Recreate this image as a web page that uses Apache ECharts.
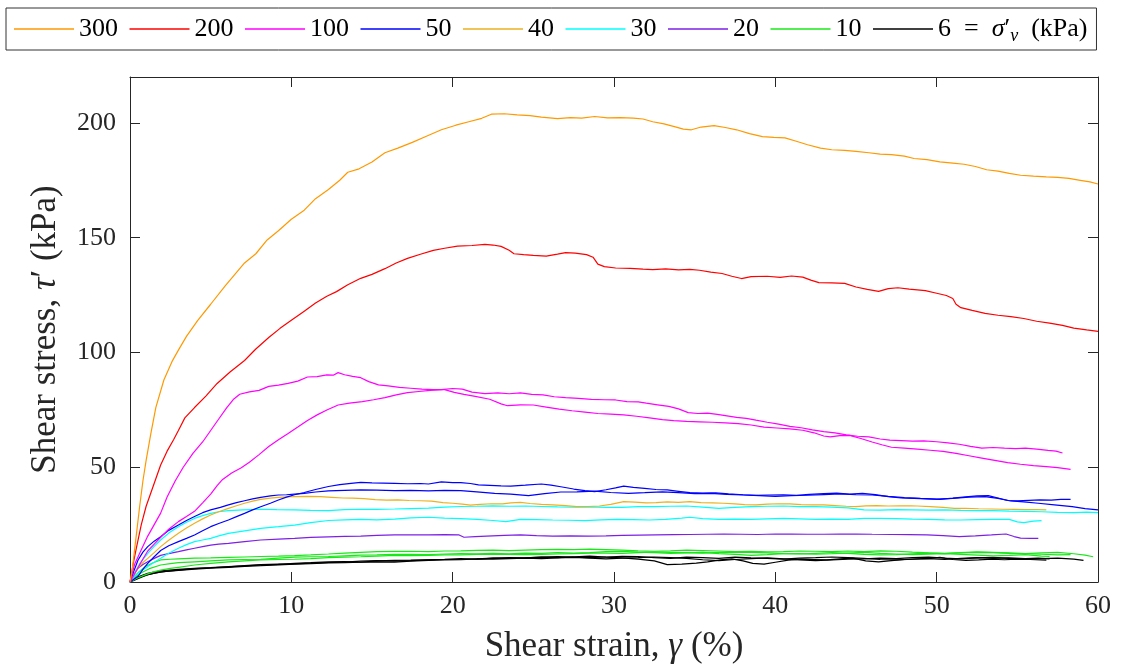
<!DOCTYPE html>
<html>
<head>
<meta charset="utf-8">
<script src="https://cdn.jsdelivr.net/npm/echarts@6/dist/echarts.min.js"></script>
<style>
html,body{margin:0;padding:0;background:#fff;}
#c{width:1126px;height:671px;}
</style>
</head>
<body>
<div id="c"></div>
<script>
// ---- data ----
const legendNames = ['300','200','100','50','40','30','20','10','6'];
const colors = {'300':'#FF9900','200':'#FF0000','100':'#FF00FF','50':'#0000FF','40':'#EDB120','30':'#00FFFF','20':'#7E1FE6','10':'#18E818','6':'#000000'};
const xTicks = [0,10,20,30,40,50,60];
const yTicks = [0,50,100,150,200];

const s300 = [[0,0],[0.15,6],[0.3,15],[0.6,33],[0.8,44],[1.0,53],[1.3,65],[1.6,76],[2.1,88],[2.6,96],[3.0,101],[3.5,107],[4.2,114],[5.0,121],[5.9,129],[6.5,134],[7.1,139],[7.8,143],[8.5,149],[9.2,153],[10.0,158],[10.8,162],[11.5,167],[12.3,171],[13.0,175],[13.5,178.5],[14.2,180],[15.0,183],[15.8,187],[16.6,189],[17.5,191.5],[18.3,194],[19.3,197],[20.2,199],[21.0,200.5],[21.8,202],[22.4,203.8],[23.2,204],[24.0,203.5],[24.8,203.2],[25.5,202.5],[26.5,201.9],[27.3,202.3],[28.0,202.1],[28.8,202.8],[29.6,202.2],[30.4,202.3],[31.2,202.1],[31.8,201.7],[32.4,200.5],[33.1,199.6],[33.8,198.3],[34.3,197.3],[34.8,197],[35.4,198.2],[36.2,198.8],[36.9,198],[37.6,197],[38.4,195.3],[39.2,194],[39.9,193.7],[40.6,193.5],[41.3,192],[42.0,190.5],[42.8,189],[43.5,188.3],[44.3,188],[45.0,187.6],[45.8,187],[46.5,186.4],[47.2,186.2],[48.0,185.5],[48.6,184.5],[49.4,184],[50.2,183],[51.0,182.5],[51.7,182],[52.4,181],[53.1,179.6],[53.8,179],[54.5,178],[55.2,177.2],[56.0,176.8],[56.8,176.5],[57.5,176.3],[58.2,175.8],[58.9,175],[59.5,174.3],[60,173.4]];

const s200 = [[0,0],[0.2,8],[0.4,15],[0.7,25],[1.0,33],[1.3,39],[1.6,45],[1.9,51],[2.3,57],[2.7,62],[3.0,66],[3.4,71.5],[4.0,76],[4.7,81],[5.4,86.5],[6.2,91.5],[7.1,96.5],[7.8,101.5],[8.6,106.5],[9.3,110.5],[10.0,114],[10.8,118],[11.5,121.5],[12.2,124.5],[12.8,126.5],[13.5,129.5],[14.3,132.3],[15.0,134],[15.8,136.5],[16.5,139],[17.2,141],[18.0,142.8],[18.8,144.5],[19.5,145.4],[20.3,146.3],[21.2,146.6],[22.0,147.1],[22.5,146.8],[23.0,146.2],[23.5,144.5],[23.8,143],[24.4,142.6],[25.0,142.3],[25.8,142],[26.5,142.8],[27.0,143.5],[27.6,143.3],[28.3,142.6],[28.7,141.5],[29.0,138.5],[29.4,137.4],[30.1,136.8],[31.0,136.6],[31.8,136.3],[32.4,136.1],[33.2,136.4],[34.0,136],[34.7,136.2],[35.3,135.8],[36.0,135],[36.7,134.4],[37.3,133.2],[37.9,132.2],[38.5,133],[39.5,133.2],[40.3,132.7],[41.0,133.3],[41.7,132.8],[42.2,131.5],[42.7,130.4],[43.5,130.3],[44.3,130.1],[45.0,128.5],[45.7,127.5],[46.4,126.6],[47.0,127.8],[47.6,128.2],[48.3,127.6],[49.3,126.9],[50.0,125.8],[50.6,124.8],[51.0,123.5],[51.2,121],[51.5,119.5],[52.2,118.3],[53.0,117],[53.8,116.2],[54.6,115.6],[55.4,114.8],[56.2,113.6],[57.0,112.8],[57.8,111.8],[58.5,110.6],[59.3,109.8],[60,109.2]];

const s100a = [[0,0],[0.3,8],[0.7,14],[1.1,20],[1.5,25],[1.9,30],[2.3,37],[2.8,44],[3.3,50],[3.9,56],[4.5,61],[5.0,66],[5.5,71],[6.0,76],[6.4,79.5],[6.8,81.8],[7.4,82.8],[8.0,83.5],[8.6,85.2],[9.2,85.8],[9.8,86.5],[10.4,87.5],[11.0,89.3],[11.6,89.5],[12.2,90.2],[12.6,90.1],[12.9,91.2],[13.3,90.3],[13.8,89.6],[14.3,89],[14.8,87.3],[15.4,85.9],[16.0,85.4],[16.7,84.8],[17.4,84.4],[18.1,84],[18.8,83.8],[19.5,83.8],[20.1,82.6],[20.7,81.7],[21.4,80.9],[22.3,79.6],[23.0,77.6],[23.4,76.8],[24.2,77.2],[25.0,77.1],[25.8,76.2],[26.6,75.3],[27.4,74.6],[28.2,74],[29.0,73.4],[29.8,73.1],[30.6,72.8],[31.4,72.2],[32.2,71.5],[33.0,70.7],[33.7,70.3],[34.5,70],[35.3,69.8],[36.1,69.6],[36.9,69.3],[37.7,69],[38.5,68.4],[39.3,67.5],[40.1,67.1],[40.9,66.7],[41.7,66.1],[42.4,65],[43.0,63.6],[43.4,63.2],[44.0,63.8],[44.6,63.9],[45.3,62.5],[46.0,61],[46.6,59.8],[47.2,58.7],[48.0,58.3],[48.8,57.9],[49.6,57.4],[50.4,56.9],[51.2,56],[52.0,55],[52.8,54],[53.6,53],[54.4,52],[55.2,51.3],[56.0,50.7],[56.8,50.3],[57.5,49.8],[58.3,49.1]];

const s100b = [[0,0],[0.4,5],[0.8,10],[1.1,13.5],[1.5,16.5],[1.9,19.5],[2.4,23],[3.0,26.3],[3.5,28.5],[4.0,30.8],[4.5,34.5],[5.0,38.3],[5.4,42],[5.7,44.4],[6.3,47.5],[6.9,49.8],[7.4,52.2],[8.0,55.5],[8.6,59],[9.2,62],[9.8,64.7],[10.4,67.5],[11.0,70.4],[11.6,72.8],[12.2,74.9],[12.9,77.1],[13.6,77.9],[14.4,78.6],[15.1,79.4],[15.8,80.3],[16.5,81.5],[17.2,82.5],[17.9,83],[18.6,83.5],[19.3,83.8],[20.0,84.3],[20.6,84],[21.2,82.7],[22.0,82.1],[22.8,82.4],[23.5,82],[24.2,82.4],[24.9,81.7],[25.6,81.5],[26.3,80.7],[27.0,80.3],[27.8,80],[28.6,79.6],[29.4,79.4],[30.1,79.3],[30.8,78.6],[31.5,78.5],[32.0,77.9],[32.7,77.2],[33.4,76.5],[34.0,75.4],[34.6,73.8],[35.2,73.4],[35.8,73.6],[36.4,73],[37.0,72.4],[37.6,71.7],[38.2,71.3],[38.8,70.5],[39.5,69.6],[40.2,68.8],[40.9,67.8],[41.6,67.2],[42.3,66.3],[43.0,65.5],[43.7,65],[44.4,64.1],[45.1,63.5],[45.8,63.2],[46.5,62.3],[47.1,61.8],[47.8,61.6],[48.5,61.4],[49.2,61.5],[50.0,61.1],[50.7,60.6],[51.4,60],[52.1,59.1],[52.8,58.3],[53.5,58.6],[54.2,58.3],[54.9,58.1],[55.5,58.3],[56.2,57.9],[56.9,57.3],[57.4,57],[57.8,56.2]];

const s50a = [[0,0],[0.2,4],[0.5,9.6],[0.8,13],[1.1,15.4],[1.5,17.8],[1.9,19.7],[2.4,22.5],[3.0,24.8],[3.5,26.8],[4.0,28.5],[4.5,30.2],[5.0,31.4],[5.6,32.5],[6.1,33.6],[6.6,34.6],[7.1,35.4],[7.6,36.2],[8.1,36.9],[8.7,37.5],[9.2,37.9],[9.7,38],[10.2,38.3],[10.8,38.6],[11.5,39.2],[12.3,39.7],[13.3,39.9],[14.3,40.1],[15.3,40],[16.4,39.8],[17.4,39.9],[18.5,39.7],[19.5,39.9],[20.5,39.8],[21.5,39.3],[22.6,38.6],[23.6,38.3],[24.7,37.6],[25.7,38.5],[26.7,39.2],[27.7,39.3],[28.8,39.6],[29.8,39],[30.9,38.6],[31.9,38.9],[33.0,39.3],[34.0,38.9],[35.0,38.5],[36.0,38.6],[37.0,38.2],[38.0,37.9],[39.0,37.6],[40.0,37.3],[41.0,37.6],[42.0,37.8],[43.0,38.1],[44.0,38.4],[45.0,38],[46.0,37.9],[47.0,37.3],[48.0,36.8],[49.0,36.4],[50.0,36.1],[51.0,36.4],[52.0,37],[53.0,37.2],[53.8,36.4],[54.6,35.3],[55.4,34.9],[56.3,34.3],[57.3,33.6],[58.4,32.8],[59.2,32],[60,31.4]];

const s50b = [[0,0],[0.3,1.5],[0.5,2.5],[0.8,5.5],[1.1,8.1],[1.5,11],[1.9,13.7],[2.4,15.8],[3.0,17.6],[3.5,19],[4.0,20.5],[4.5,22.3],[5.0,24.1],[5.5,25.5],[6.1,27],[6.6,28.5],[7.1,29.9],[7.6,31.4],[8.1,32.8],[8.7,34.3],[9.2,35.7],[9.7,37],[10.2,38],[10.8,39],[11.5,40.3],[12.3,41.6],[13.0,42.4],[13.7,43],[14.3,43.4],[15.0,43.2],[15.7,43.1],[16.4,43],[17.2,42.8],[18.0,42.9],[18.5,42.7],[19.3,43.6],[20.0,43.3],[20.5,43.3],[21.1,42.9],[21.6,42.3],[22.3,42.1],[23.0,41.9],[23.6,41.8],[24.5,42.2],[25.5,42.7],[26.1,42.2],[26.7,41.5],[27.5,40.5],[28.2,39.8],[28.8,39.4],[29.5,40.2],[30.1,41],[30.6,41.8],[31.2,41.2],[31.9,40.8],[32.6,40.3],[33.3,40.1],[34.0,39.5],[34.7,38.9],[35.5,38.7],[36.3,38.8],[37.1,38.4],[38.0,38],[38.8,37.7],[39.6,37.9],[40.5,38],[41.3,37.8],[42.1,38.2],[43.0,38.5],[43.8,38.7],[44.6,38.3],[45.4,38.6],[46.2,38.1],[47.0,37.2],[47.8,36.6],[48.6,36.4],[49.4,36.2],[50.2,36],[51.0,36.5],[51.8,37.1],[52.5,37.5],[53.2,37.6],[53.8,36.6],[54.4,35.5],[55.0,35.3],[55.7,35.6],[56.4,35.8],[57.1,35.7],[57.7,36],[58.3,36]];

const s40 = [[0,0],[0.2,2.5],[0.5,6],[0.8,8.5],[1.1,10.3],[1.5,12.8],[1.9,15.4],[2.4,18.2],[3.0,21.2],[3.5,23.5],[4.0,25.6],[4.5,27.5],[5.0,29.2],[5.5,30.6],[6.1,32.1],[6.6,33.2],[7.1,34.3],[7.6,35.2],[8.1,36],[8.7,36.5],[9.2,36.9],[9.7,37.1],[10.2,37.2],[11.0,37.3],[11.8,37.2],[12.5,36.9],[13.2,36.6],[13.8,36.5],[14.5,36.3],[15.2,35.9],[15.9,35.7],[16.6,35.8],[17.3,35.5],[18.0,35.4],[18.7,35.2],[19.4,34.6],[20.0,34.3],[20.6,33.9],[21.1,33.5],[21.7,33.8],[22.4,34.1],[23.1,34],[23.6,34.5],[24.2,34.7],[24.8,34.2],[25.5,33.8],[26.2,33.6],[27.0,33.3],[27.7,32.8],[28.4,32.9],[29.1,33.1],[29.8,33.8],[30.6,35],[31.3,34.8],[32.0,34.5],[32.6,34.6],[33.3,34.9],[34.0,34.7],[34.7,35],[35.4,34.6],[36.1,34.5],[36.8,34.3],[37.5,34],[38.1,33.7],[38.8,33.6],[39.5,33.9],[40.2,34.1],[40.9,34],[41.6,33.7],[42.3,33.6],[43.0,33.6],[43.7,33.3],[44.4,33],[45.0,32.8],[45.6,33.2],[46.3,33.3],[47.0,33.1],[47.7,33.2],[48.4,33.2],[48.8,33.1],[49.6,32.8],[50.4,32.5],[51.1,32.1],[51.8,32.1],[52.6,31.9],[53.4,31.8],[54.1,31.7],[54.8,31.6],[55.5,31.5],[56.2,31.5],[56.8,31.4]];

const s30a = [[0,0],[0.3,4],[0.6,8],[1.1,12.5],[1.5,15.5],[1.9,18.3],[2.4,21.3],[3.0,24.1],[3.5,26],[4.0,27.7],[4.5,28.9],[5.0,29.9],[5.5,30.6],[6.1,31.1],[7.0,31.4],[8.1,31.7],[9.1,31.5],[10.2,31.4],[11.2,31.2],[12.3,31.1],[13.3,31.5],[14.3,31.7],[15.3,31.6],[16.4,31.8],[17.4,32],[18.5,32.2],[19.5,32.6],[20.5,32.9],[21.5,33],[22.5,33.2],[23.5,33],[24.5,33.1],[25.5,32.9],[26.5,32.7],[27.5,32.6],[28.5,32.7],[29.5,32.5],[30.5,32.5],[31.5,32.8],[32.5,32.8],[33.5,33],[34.5,33.1],[35.5,32.6],[36.5,32.1],[37.5,32.5],[38.5,32.8],[39.5,33],[40.5,33.1],[41.5,32.8],[42.5,32.8],[43.5,32.6],[44.5,32.3],[45.5,31.4],[46.5,31.3],[47.5,31.5],[48.5,31.4],[49.5,31.3],[50.5,31.4],[51.5,31.2],[52.5,31.1],[53.5,31.1],[54.5,30.9],[55.5,30.8],[56.5,30.6],[57.5,30.3],[58.5,30.2],[59.3,30.4],[60,30.2]];

const s30b = [[0,0],[0.3,2.5],[0.6,4.5],[1.1,6.7],[1.5,8.6],[1.9,10.3],[2.4,12.5],[3.0,14.7],[3.5,16.3],[4.0,17.6],[4.5,18.3],[5.0,19],[5.5,20.1],[6.1,21.2],[7.1,22.3],[8.1,23.4],[9.2,24.1],[10.2,24.8],[11.2,25.9],[12.3,26.8],[13.3,27.1],[14.3,27.3],[15.3,27.1],[16.4,27.4],[17.4,27.9],[18.5,28.2],[19.5,27.8],[20.5,27.6],[21.5,27.3],[22.5,26.8],[23.3,26.3],[24.2,27.3],[25.2,27.2],[26.2,27],[27.2,26.9],[28.2,26.7],[29.2,27.1],[30.2,27.3],[31.2,27.2],[32.2,27],[33.2,27.3],[34.2,27.8],[34.7,28.2],[35.5,27.6],[36.5,27.3],[37.5,27.4],[38.5,27.3],[39.5,27.5],[40.5,27.7],[41.5,27.5],[42.5,27.3],[43.5,27.4],[44.5,27.3],[45.5,27.7],[46.5,27.7],[47.5,27.6],[48.5,27.4],[49.5,27.3],[50.5,27.1],[51.5,27],[52.5,27.2],[53.5,27.3],[54.5,27.3],[55.0,26.2],[55.4,25.9],[56.0,26.5],[56.5,26.7]];

const s20 = [[0,0],[0.2,3],[0.5,6],[0.8,7.6],[1.1,8.8],[1.5,10.3],[1.9,11.6],[2.4,12.4],[3.0,13.2],[3.5,14],[4.0,14.7],[4.5,15.4],[5.0,16.1],[5.5,16.5],[6.1,16.8],[7.1,17.6],[8.1,18.3],[9.2,18.7],[10.2,19],[11.2,19.4],[12.3,19.7],[13.3,19.9],[14.3,20],[15.3,20.3],[16.4,20.5],[17.4,20.5],[18.5,20.5],[19.5,20.6],[20.4,20.5],[20.7,19.5],[21.4,19.8],[22.1,20],[23.2,20.3],[24.2,20.5],[25.2,20.2],[26.2,20],[27.3,20.1],[28.4,20],[29.5,20.1],[30.5,20.3],[31.6,20.4],[32.6,20.5],[33.7,20.6],[34.7,20.7],[35.8,20.8],[36.8,20.9],[37.9,20.8],[38.9,20.7],[40.0,20.9],[41.0,20.9],[42.0,20.8],[43.0,20.8],[44.0,20.9],[45.0,20.9],[46.0,20.8],[47.2,20.7],[48.3,20.6],[49.4,20.5],[50.4,20.2],[51.4,19.8],[52.4,20.1],[53.4,20.5],[54.3,20.9],[54.8,19.8],[55.2,19.1],[55.8,19],[56.3,19]];

const s10a = [[0,0],[0.2,2],[0.5,4],[0.9,6.5],[1.4,8.3],[1.9,9.6],[2.5,9.9],[3.0,10.1],[4.0,10.4],[5.0,10.5],[6.1,10.7],[7.1,10.9],[8.1,11.1],[9.2,11.3],[10.2,11.5],[11.2,11.8],[12.3,12.2],[13.3,12.6],[14.3,12.9],[15.3,13.2],[16.4,13.3],[17.4,13.4],[18.5,13.2],[19.5,13.5],[20.5,13.6],[21.5,13.8],[22.5,13.9],[23.5,13.7],[24.5,13.9],[25.5,14.1],[26.5,14.2],[27.5,14.1],[28.5,14.3],[29.5,14.1],[30.5,13.9],[31.5,13.6],[32.5,13.4],[33.5,13.6],[34.5,13.9],[35.5,13.7],[36.5,13.5],[37.5,13.2],[38.5,13.3],[39.5,13.1],[40.5,13.2],[41.5,13.5],[42.5,13.4],[43.5,13.2],[44.5,13.5],[45.5,13.2],[46.5,13.6],[47.5,13.4],[48.5,13],[49.5,12.7],[50.5,12.5],[51.5,12.8],[52.5,13.1],[53.5,12.9],[54.5,12.7],[55.5,12.4],[56.5,12.7],[57.5,12.9],[58.5,12.3],[59.2,11.7],[59.7,11]];

const s10b = [[0,0],[0.3,2],[0.7,4],[1.2,5.8],[1.9,7.4],[2.5,8],[3.0,8.4],[4.0,8.8],[5.0,9.2],[6.1,9.6],[7.1,9.8],[8.1,9.9],[9.2,10.4],[10.2,10.8],[11.2,11],[12.3,11.1],[13.3,11.4],[14.3,11.7],[15.3,11.8],[16.4,12.1],[17.4,12],[18.5,11.9],[19.5,12.2],[20.5,12.4],[21.5,12.3],[22.5,12.5],[23.5,12.3],[24.5,12.6],[25.5,12.5],[26.5,12.8],[27.5,12.6],[28.5,12.8],[29.5,13.2],[30.5,13.4],[31.5,13],[32.5,12.8],[33.5,12.5],[34.5,12.7],[35.5,12.9],[36.5,12.4],[37.5,12],[38.5,11.6],[39.5,11.9],[40.5,12.3],[41.5,12.4],[42.5,12.1],[43.5,12.3],[44.5,12.6],[45.5,12.9],[46.5,12.5],[47.5,12.2],[48.5,11.9],[49.5,12.1],[50.5,12.3],[51.5,12],[52.5,11.7],[53.5,11.4],[54.5,11.6],[55.5,11.9],[56.5,11.3],[57.0,11.1]];

const s10c = [[0,0],[0.4,1.5],[0.9,3],[1.4,4.3],[1.9,5.2],[2.5,5.9],[3.0,6.4],[4.0,7.4],[5.0,8.1],[6.1,8.8],[7.1,9.2],[8.1,9.6],[9.2,9.8],[10.2,9.9],[11.2,10.2],[12.3,10.6],[13.3,10.8],[14.3,11],[15.3,11.3],[16.4,11.6],[17.4,11.5],[18.5,11.6],[19.5,11.8],[20.5,11.8],[21.5,12],[22.5,12.1],[23.5,12],[24.5,11.9],[25.5,12],[26.5,12.2],[27.5,12.4],[28.5,12.6],[29.5,12.6],[30.5,12.5],[31.5,12.8],[32.5,13.1],[33.5,12.9],[34.5,12.8],[35.5,12.6],[36.5,12.9],[37.5,13],[38.5,12.9],[39.5,12.7],[40.5,12.4],[41.5,12.2],[42.5,12.5],[43.5,12.8],[44.5,12.5],[45.5,12],[46.5,11.8],[47.5,11.9],[48.5,12.3],[49.5,12.6],[50.5,12.4],[51.5,12.7],[52.5,12.9],[53.5,12.8],[54.5,12.5],[55.5,12.3],[56.5,12.1],[57.5,11.8],[58.3,11.9]];

const s6a = [[0,0],[0.1,0.9],[0.5,2.3],[1.1,3.8],[1.9,4.9],[3.0,5.5],[4.0,6],[5.0,6.3],[6.1,6.7],[7.1,7],[8.1,7.4],[9.2,7.7],[10.2,8.1],[11.2,8.4],[12.3,8.8],[13.3,8.9],[14.3,8.6],[15.3,9.2],[16.4,9.4],[17.4,9.5],[18.5,9.7],[19.5,9.9],[20.5,10.2],[21.5,9.9],[22.5,10.4],[23.5,10.6],[24.5,10.5],[25.5,10.8],[26.5,10.6],[27.5,11],[28.5,11.3],[29.5,10.8],[30.5,10.5],[31.5,10],[32.5,9.2],[33.3,7.6],[34.2,7.8],[35.1,8.2],[35.8,8.8],[36.6,9.6],[37.3,10.1],[38.0,9.2],[38.6,8.1],[39.3,7.8],[40.0,8.6],[40.8,9.5],[41.6,10],[42.4,9.8],[43.2,9.6],[44.0,10.1],[44.8,10.4],[45.6,9.2],[46.4,8.8],[47.2,9.3],[48.0,9.8],[48.8,10.1],[49.6,10.3],[50.2,10.7],[51.0,9.8],[51.8,9.4],[52.6,9.6],[53.4,9.9],[54.2,9.7],[55.0,10],[55.8,9.8],[56.8,9.5]];

const s6b = [[0,0],[0.2,0.6],[0.6,1.8],[1.1,3.2],[1.9,4.4],[3.0,5.1],[4.0,5.6],[5.0,6],[6.1,6.4],[7.1,6.8],[8.1,7.1],[9.2,7.5],[10.2,7.8],[11.2,8],[12.3,8.3],[13.3,8.4],[14.3,8.6],[15.3,8.8],[16.4,8.7],[17.4,9.1],[18.5,9.4],[19.5,9.6],[20.5,9.7],[21.5,10.1],[22.5,9.9],[23.5,10.2],[24.5,10.4],[25.5,10.2],[26.5,10.5],[27.5,10.7],[28.5,10.4],[29.5,10.1],[30.5,10.4],[31.5,10.6],[32.5,10.9],[33.5,10.6],[34.5,10.3],[35.5,9.7],[36.5,9.3],[37.5,9.8],[38.5,10.2],[39.5,10.5],[40.5,10.1],[41.5,9.6],[42.5,9.3],[43.5,9.6],[44.5,9.9],[45.5,10.1],[46.5,10.4],[47.5,10.2],[48.5,10.6],[49.5,10.8],[50.5,10.4],[51.5,10.1],[52.5,10.5],[53.5,10.7],[54.5,10.3],[55.5,10],[56.5,10.2],[57.5,10.4],[58.5,10],[59.1,9.4]];

const s6c = [[0,0],[0.3,1.2],[0.8,2.6],[1.5,3.9],[2.2,4.6],[3.0,5.2],[4.0,5.8],[5.0,6.2],[6.1,6.6],[7.1,7.1],[8.1,7.6],[9.2,7.8],[10.2,7.9],[11.2,8.2],[12.3,8.5],[13.3,8.7],[14.3,9.1],[15.3,9.3],[16.4,9.1],[17.4,9.3],[18.5,9.6],[19.5,9.8],[20.5,9.9],[21.5,10.1],[22.5,10.4],[23.5,10.3],[24.5,10.5],[25.5,10.9],[26.5,11.1],[27.5,10.8],[28.5,10.6],[29.5,10.9],[30.5,11.2],[31.5,11.1],[32.5,10.6],[33.5,10.3],[34.5,10.8],[35.5,10.6],[36.5,10.3],[37.5,10.8],[38.5,10.5],[39.5,10.3],[40.5,10],[41.5,10.4],[42.5,10.6],[43.5,10.9],[44.5,10.6],[45.5,10.3],[46.5,9.8],[47.5,9.6],[48.5,9.9],[49.5,10.2],[50.5,9.8],[51.5,10.3],[52.5,10.6],[53.5,10.3],[54.5,10.5],[55.5,10.2],[56.3,10.4],[57.0,10.1]];

// which arrays belong to which legend entry
const groups = [
  ['300', [s300]],
  ['200', [s200]],
  ['100', [s100a, s100b]],
  ['50',  [s50a, s50b]],
  ['40',  [s40]],
  ['30',  [s30a, s30b]],
  ['20',  [s20]],
  ['10',  [s10a, s10b, s10c]],
  ['6',   [s6a, s6b, s6c]]
];

// ---- chart ----
const FONT = 'Liberation Serif';
const AX = '#262626';
const series = [];
groups.forEach(([name, arrs]) => {
  arrs.forEach(d => {
    series.push({
      name: name, type: 'line', data: d, showSymbol: false, symbol: 'none',
      xAxisIndex: 0, yAxisIndex: 0,
      lineStyle: { color: colors[name], width: 1.2 },
      itemStyle: { color: colors[name] },
      emphasis: { disabled: true }, animation: false
    });
  });
});
series.reverse();

const axisCommon = {
  axisLine: { show: true, onZero: false, lineStyle: { color: AX, width: 1 } },
  axisTick: { show: true, inside: true, length: 10, lineStyle: { color: AX, width: 1 } },
  splitLine: { show: false }
};

const chart = echarts.init(document.getElementById('c'), null, { renderer: 'canvas' });
chart.setOption({
  backgroundColor: '#ffffff',
  animation: false,
  grid: { left: 130, right: 28, top: 77, bottom: 89, containLabel: false },
  legend: {
    data: legendNames,
    left: 6, top: 8,
    orient: 'horizontal',
    icon: 'rect',
    itemWidth: 60, itemHeight: 1.5, itemGap: 11.5,
    padding: [5, 9, 5, 8],
    borderColor: '#333', borderWidth: 1, borderRadius: 0,
    backgroundColor: '#fff',
    selectedMode: false,
    textStyle: {
      fontFamily: FONT, fontSize: 26, color: '#000', lineHeight: 32,
      rich: {
        n: { fontFamily: FONT, fontSize: 26, color: '#000', lineHeight: 32 },
        i: { fontFamily: FONT, fontSize: 26, fontStyle: 'italic', color: '#000', lineHeight: 32 },
        s: { fontFamily: FONT, fontSize: 18, fontStyle: 'italic', color: '#000', lineHeight: 17, verticalAlign: 'bottom' }
      }
    },
    formatter: function (name) {
      if (name === '6') return '{n|6\u2002=\u2002}{i|σ}{n|′}{s|v}{n|\u2002(kPa)}';
      return name;
    }
  },
  xAxis: [
    Object.assign({
      type: 'value', min: 0, max: 60, interval: 10, position: 'bottom',
      axisLabel: { fontFamily: FONT, fontSize: 26, color: AX, margin: 11,
        formatter: v => (xTicks.indexOf(v) >= 0 ? String(v) : '') },
      name: '{a|Shear strain, }{i|γ}{a| (%)}',
      nameLocation: 'middle', nameGap: 47,
      nameTextStyle: { rich: {
        a: { fontFamily: FONT, fontSize: 35, color: AX },
        i: { fontFamily: FONT, fontSize: 35, fontStyle: 'italic', color: AX }
      } }
    }, axisCommon),
    Object.assign({
      type: 'value', min: 0, max: 60, interval: 10, position: 'top',
      axisLabel: { show: false }
    }, axisCommon)
  ],
  yAxis: [
    Object.assign({
      type: 'value', min: 0, max: 220, interval: 50, position: 'left',
      axisLabel: { fontFamily: FONT, fontSize: 26, color: AX, margin: 14, showMaxLabel: false,
        formatter: v => (yTicks.indexOf(v) >= 0 ? String(v) : '') },
      name: '{a|Shear stress, }{i|τ}{a|′ (kPa)}',
      nameLocation: 'middle', nameGap: 67, nameRotate: 90,
      nameTextStyle: { rich: {
        a: { fontFamily: FONT, fontSize: 35, color: AX },
        i: { fontFamily: FONT, fontSize: 35, fontStyle: 'italic', color: AX }
      } }
    }, axisCommon),
    Object.assign({
      type: 'value', min: 0, max: 220, interval: 50, position: 'right',
      axisLabel: { show: false }
    }, axisCommon)
  ],
  series: series
});
</script>
</body>
</html>
